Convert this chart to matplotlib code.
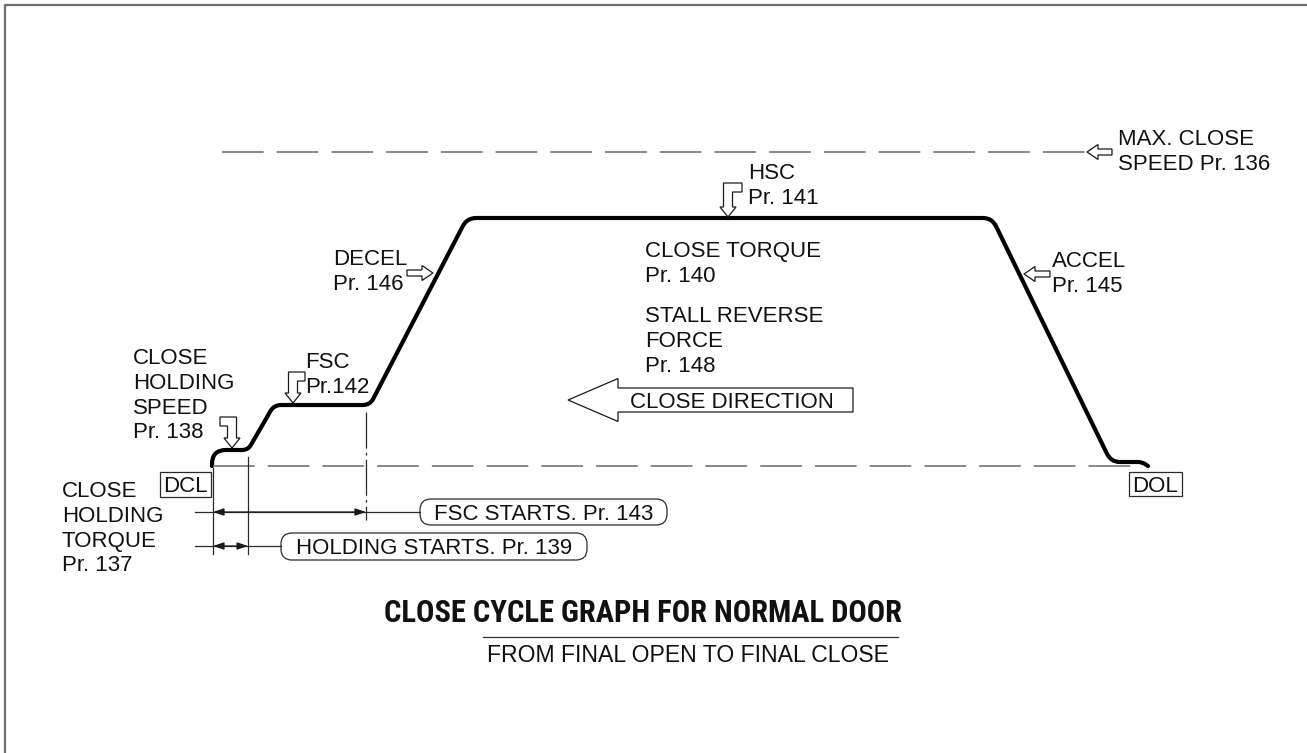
import matplotlib
matplotlib.use('Agg')
import matplotlib.pyplot as plt
from matplotlib.path import Path
from matplotlib.patches import PathPatch, FancyArrow, FancyBboxPatch, Polygon, Rectangle
from matplotlib import font_manager as fm
import numpy as np

plt.rcParams['lines.scale_dashes'] = False
FONT = ['Liberation Sans', 'DejaVu Sans']


def first_font(cands):
    for c in cands:
        try:
            fm.findfont(fm.FontProperties(family=c), fallback_to_default=False)
            return c
        except Exception:
            continue
    return 'Liberation Sans'


TITLE_FONT = first_font(['Roboto Condensed', 'Arial Narrow', 'Liberation Sans Narrow',
                         'Archivo Narrow', 'PT Sans Narrow', 'Sofia Sans Condensed',
                         'Saira SemiCondensed'])

# ---------------- data (drawing units = reference pixels, y downward) -------------
profile_x = [212, 212, 248, 274, 370, 467, 992, 1111, 1142, 1148]
profile_y = [466, 450, 450, 405, 405, 218, 218, 462, 462, 466]
corner_r = [0, 14, 6, 7, 7, 9, 9, 9, 4, 0]

zero_level = 466
zero_span = [213, 1140]
max_level = 152
max_span = [222, 1087]

dcl_x = 213
hold_start_x = 248
fsc_start_x = 366

title = "CLOSE CYCLE GRAPH FOR NORMAL DOOR"
subtitle = "FROM FINAL OPEN TO FINAL CLOSE"

label_blocks = [
    (["MAX. CLOSE", "SPEED Pr. 136"], 1118, 145),
    (["HSC", "Pr. 141"], 748, 179),
    (["CLOSE TORQUE", "Pr. 140"], 645, 257),
    (["STALL REVERSE", "FORCE", "Pr. 148"], 645, 322),
    (["DECEL", "Pr. 146"], 333, 265),
    (["ACCEL", "Pr. 145"], 1052, 267),
    (["FSC", "Pr.142"], 305, 368),
    (["CLOSE", "HOLDING", "SPEED", "Pr. 138"], 133, 364),
    (["CLOSE", "HOLDING", "TORQUE", "Pr. 137"], 62, 497),
]
LINE_STEP = 24.8
FS = 16

# ---------------- figure ---------------------------------------------------------
fig = plt.figure(figsize=(13.07, 7.53), dpi=100)
ax = fig.add_axes([0, 0, 1, 1])
ax.set_xlim(0, 1307)
ax.set_ylim(753, 0)
ax.axis('off')

# border
ax.plot([4.5, 4.5, 1307], [753, 5, 5], color='#707070', lw=1.6, solid_capstyle='butt')

# dashed reference lines
ax.plot(max_span, [max_level] * 2, color='#747474', lw=1.2, ls=(0, (30, 9.4)))
ax.plot(zero_span, [zero_level] * 2, color='#747474', lw=1.2, ls=(0, (30, 9.4)))


def rounded_path(xs, ys, rs):
    verts = [(xs[0], ys[0])]
    codes = [Path.MOVETO]
    for i in range(1, len(xs) - 1):
        p0 = np.array([xs[i - 1], ys[i - 1]], float)
        p1 = np.array([xs[i], ys[i]], float)
        p2 = np.array([xs[i + 1], ys[i + 1]], float)
        d1 = (p0 - p1) / np.linalg.norm(p0 - p1)
        d2 = (p2 - p1) / np.linalg.norm(p2 - p1)
        a = p1 + d1 * rs[i]
        b = p1 + d2 * rs[i]
        verts += [tuple(a), tuple(p1), tuple(b)]
        codes += [Path.LINETO, Path.CURVE3, Path.CURVE3]
    verts.append((xs[-1], ys[-1]))
    codes.append(Path.LINETO)
    return Path(verts, codes)


ax.add_patch(PathPatch(rounded_path(profile_x, profile_y, corner_r), fill=False,
                       lw=3.0, edgecolor='black', capstyle='round', joinstyle='round'))

# extension lines
thin = dict(color='#2a2a2a', lw=0.9)
ax.plot([dcl_x, dcl_x], [468, 554], **thin)
ax.plot([hold_start_x, hold_start_x], [457, 554], **thin)
ax.plot([fsc_start_x, fsc_start_x], [412, 520], color='#2a2a2a', lw=0.9,
        ls=(0, (26, 3, 2, 3)))

# dimension lines
ax.plot([195, 420], [512, 512], **thin)
ax.plot([195, 281], [546, 546], **thin)
arrow_kw = dict(arrowstyle='<|-|>,head_length=0.65,head_width=0.22', lw=0.9,
                color='#1a1a1a', shrinkA=0, shrinkB=0)
ax.annotate('', xy=(fsc_start_x, 512), xytext=(dcl_x, 512), arrowprops=arrow_kw)
ax.annotate('', xy=(hold_start_x, 546), xytext=(dcl_x, 546), arrowprops=arrow_kw)

# rounded label boxes
for (x0, y0, w, h, txt) in [(420, 499, 247, 26, "FSC STARTS. Pr. 143"),
                            (281, 533, 306, 27, "HOLDING STARTS. Pr. 139")]:
    ax.add_patch(FancyBboxPatch((x0, y0), w, h, boxstyle='round,pad=0,rounding_size=11',
                                fill=False, edgecolor='#2a2a2a', lw=0.9))
    ax.text(x0 + w / 2, y0 + h / 2 + 7.5, txt, ha='center', va='baseline',
            fontsize=FS, family=FONT, color='#111111')

# DCL / DOL boxes
for (x0, y0, w, h, txt) in [(160, 472, 51, 25, "DCL"), (1129, 472, 53, 24, "DOL")]:
    ax.add_patch(Rectangle((x0, y0), w, h, fill=False, edgecolor='#2a2a2a', lw=0.9))
    ax.text(x0 + w / 2, y0 + h / 2 + 7.5, txt, ha='center', va='baseline',
            fontsize=FS, family=FONT, color='#111111')

# label blocks
for lines, x0, y0 in label_blocks:
    for k, line in enumerate(lines):
        ax.text(x0, y0 + k * LINE_STEP, line, ha='left', va='baseline',
                fontsize=FS, family=FONT, color='#111111')


# hollow bent arrows (pointing down)
def bent_arrow(tx, ty, length, bar_len, side, hw=8, sw=4.5, hl=10):
    loc = [(0, 0), (-hw, hl), (-sw, hl), (-sw, length), (bar_len, length),
           (bar_len, length - 2 * sw), (sw, length - 2 * sw), (sw, hl), (hw, hl)]
    if side < 0:
        loc = [(-x, h) for x, h in loc]
    pts = [(tx + x, ty - h) for x, h in loc]
    ax.add_patch(Polygon(pts, closed=True, facecolor='white', edgecolor='#1a1a1a',
                         lw=0.9, joinstyle='miter'))


bent_arrow(728, 217, 34, 14, +1)
bent_arrow(293, 403, 31, 12, +1)
bent_arrow(232, 448, 31, 12, -1)


# hollow straight arrows
def hollow_arrow(x_tail, x_tip, y):
    ax.add_patch(FancyArrow(x_tail, y, x_tip - x_tail, 0, width=6, head_width=15,
                            head_length=11, length_includes_head=True,
                            facecolor='white', edgecolor='#1a1a1a', lw=0.9))


hollow_arrow(407, 433, 273)
hollow_arrow(1050, 1024, 274)
hollow_arrow(1112, 1087, 152)

# big CLOSE DIRECTION arrow
ax.add_patch(FancyArrow(853, 400, -285, 0, width=24, head_width=43, head_length=50,
                        length_includes_head=True, facecolor='white',
                        edgecolor='#1a1a1a', lw=0.9))
ax.text(732, 407.5, "CLOSE DIRECTION", ha='center', va='baseline', fontsize=FS,
        family=FONT, color='#111111')

# title (font size fitted to the reference width)
t = ax.text(643.5, 622, title, ha='center', va='baseline', fontsize=20,
            fontweight='semibold', family=[TITLE_FONT, 'DejaVu Sans'], color='#111111')
fig.canvas.draw()
w = t.get_window_extent().width
t.set_fontsize(20 * 521.0 / w)
ax.plot([483, 898], [637, 637], color='#333333', lw=0.9)
ax.text(688, 662, subtitle, ha='center', va='baseline', fontsize=16.6,
        family=FONT, color='#111111')

fig.savefig('out.png', dpi=100)
